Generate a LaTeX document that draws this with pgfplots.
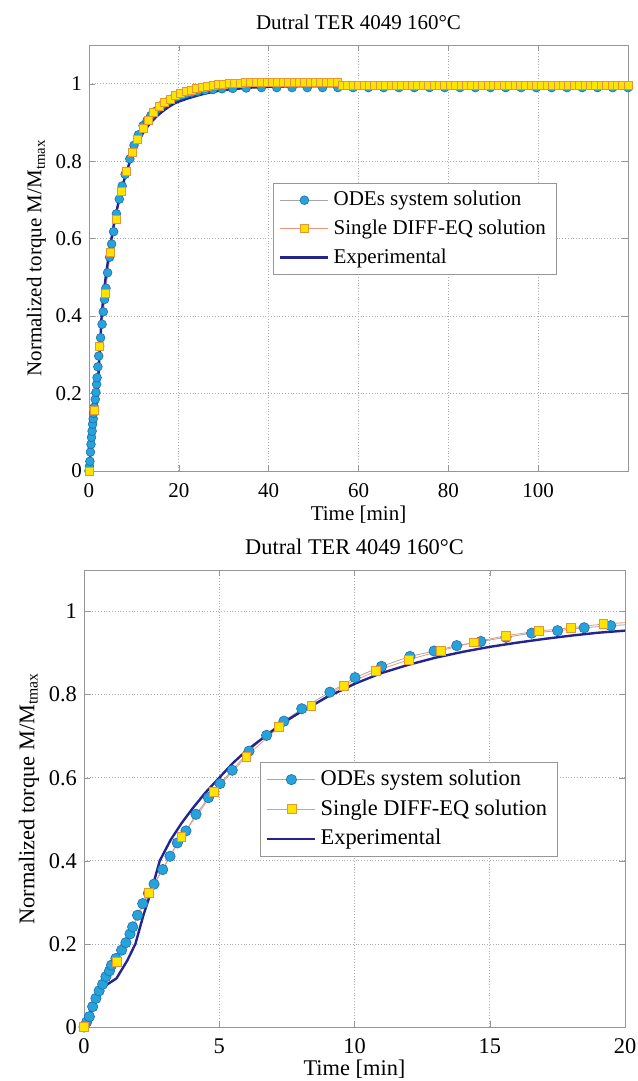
\documentclass[border=0pt]{standalone}
\usepackage{fontspec}
\setmainfont{Liberation Serif}
\usepackage{pgfplots}
\usepackage{pgfplotstable}
\pgfplotsset{compat=1.18}

\definecolor{odeblue}{RGB}{40,162,218}
\definecolor{odeedge}{RGB}{30,110,170}
\definecolor{sqyellow}{RGB}{255,228,0}
\definecolor{sqedge}{RGB}{232,150,50}
\definecolor{sqline}{RGB}{240,150,120}
\definecolor{expnavy}{RGB}{36,36,142}
\definecolor{axgray}{RGB}{150,150,150}

\pgfplotstableread{
t v
0 0
0.10 0.012
0.20 0.025
0.32 0.049
0.44 0.069
0.56 0.087
0.69 0.103
0.81 0.121
0.94 0.135
1.02 0.149
1.18 0.165
1.39 0.185
1.55 0.203
1.70 0.224
1.80 0.241
1.98 0.269
2.17 0.297
2.38 0.322
2.59 0.344
2.91 0.379
3.18 0.411
3.45 0.443
3.77 0.472
4.14 0.512
4.60 0.552
5.03 0.586
5.48 0.618
6.10 0.664
6.75 0.702
7.39 0.736
8.05 0.766
9.09 0.806
10.02 0.841
11.00 0.868
12.05 0.892
12.94 0.905
13.78 0.918
14.67 0.928
15.60 0.938
16.55 0.948
17.51 0.954
18.49 0.961
19.47 0.966
20.5 0.970
21.6 0.974
22.8 0.977
24.2 0.980
25.8 0.983
27.6 0.985
29.6 0.987
32.0 0.988
35.0 0.989
38.4 0.990
41.8 0.990
45.2 0.990
48.6 0.990
52.0 0.990
55.4 0.990
58.8 0.990
62.2 0.990
65.6 0.990
69.0 0.990
72.4 0.990
75.8 0.990
79.2 0.990
82.6 0.990
86.0 0.990
89.4 0.990
92.8 0.990
96.2 0.990
99.6 0.990
103.0 0.990
106.4 0.990
109.8 0.990
113.2 0.990
116.6 0.990
120.0 0.990
}\odedata

\pgfplotstableread{
t v
0 0
1.2 0.157
2.4 0.323
3.6 0.458
4.8 0.566
6.0 0.651
7.2 0.722
8.4 0.774
9.6 0.822
10.8 0.857
12.0 0.884
13.2 0.906
14.4 0.926
15.6 0.942
16.8 0.953
18.0 0.961
19.2 0.970
20.4 0.975
21.6 0.980
22.8 0.984
24.0 0.988
25.2 0.991
26.4 0.994
27.6 0.996
28.8 0.998
30.0 0.999
31.2 1.000
32.4 1.001
33.6 1.002
34.8 1.003
36.0 1.003
37.2 1.004
38.4 1.004
39.6 1.004
40.8 1.004
42.0 1.004
43.2 1.004
44.4 1.004
45.6 1.004
46.8 1.004
48.0 1.004
49.2 1.004
50.4 1.004
51.6 1.004
52.8 1.004
54.0 1.004
55.2 1.004
56.4 0.995
57.6 0.995
58.8 0.995
60.0 0.995
61.2 0.995
62.4 0.995
63.6 0.995
64.8 0.995
66.0 0.995
67.2 0.995
68.4 0.995
69.6 0.995
70.8 0.995
72.0 0.995
73.2 0.995
74.4 0.995
75.6 0.995
76.8 0.995
78.0 0.995
79.2 0.995
80.4 0.995
81.6 0.995
82.8 0.995
84.0 0.995
85.2 0.995
86.4 0.995
87.6 0.995
88.8 0.995
90.0 0.995
91.2 0.995
92.4 0.995
93.6 0.995
94.8 0.995
96.0 0.995
97.2 0.995
98.4 0.995
99.6 0.995
100.8 0.995
102.0 0.995
103.2 0.995
104.4 0.995
105.6 0.995
106.8 0.995
108.0 0.995
109.2 0.995
110.4 0.995
111.6 0.995
112.8 0.995
114.0 0.995
115.2 0.995
116.4 0.995
117.6 0.995
118.8 0.995
120.0 0.995
}\sqdata

\pgfplotstableread{
t v
0 0
0.2 0.03
0.5 0.08
0.8 0.100
1.2 0.117
1.6 0.16
1.9 0.20
2.2 0.27
2.5 0.33
2.8 0.40
3.2 0.45
3.6 0.49
4.0 0.525
4.5 0.565
5.0 0.600
5.5 0.635
6.0 0.665
6.5 0.690
7.0 0.715
7.5 0.738
8.0 0.758
8.5 0.776
9.0 0.795
9.5 0.810
10.0 0.826
11.0 0.852
12.0 0.872
13.0 0.889
14.0 0.903
15.0 0.915
16.0 0.925
17.0 0.934
18.0 0.942
19.0 0.949
20.0 0.954
22 0.962
24 0.969
26 0.975
28 0.980
30 0.984
33 0.987
36 0.990
40 0.992
45 0.994
50 0.996
60 0.997
70 0.997
80 0.996
90 0.995
100 0.994
110 0.993
120 0.992
}\expdata

\pgfplotsset{
  mlab/.style={
    scale only axis,
    ymin=0, ymax=1.1,
    ytick={0,0.2,0.4,0.6,0.8,1},
    yticklabels={0,0.2,0.4,0.6,0.8,1},
    axis line style={draw=axgray},
    tick style={draw=axgray},
    tick align=inside,
    major tick length=3pt,
    grid=major,
    major grid style={draw=axgray!80, densely dotted, line width=0.4pt},
    /pgf/number format/assume math mode=true,
    xlabel={Time [min]},
    ylabel={Normalized torque M/M\textsubscript{tmax}},
    ylabel style={yshift=-2pt},
    title={Dutral TER 4049 160°C},
    title style={yshift=-2pt},
    xticklabel style={yshift=-2.5pt},
    legend cell align=left,
    legend image code/.code={\draw[mark repeat=2,mark phase=2] plot coordinates {(0pt,0pt) (12pt,0pt) (24pt,0pt)};},
    legend style={draw=axgray, fill=white, inner xsep=3pt, inner ysep=2pt, row sep=1.5pt},
  },
  odestyle/.style={color=gray!70, line width=0.4pt, mark=*, mark size=2.2pt, mark options={fill=odeblue, draw=odeedge, line width=0.3pt}},
  sqstyle/.style={color=sqline, line width=0.4pt, mark=square*, mark size=2pt, mark options={fill=sqyellow, draw=sqedge, line width=0.3pt}},
  expstyle/.style={color=expnavy, line width=1.2pt, mark=none},
}

\begin{document}
\begin{tikzpicture}
\path[use as bounding box] (-44.5pt,-305pt) rectangle (274pt,235.5pt);
\begin{axis}[mlab, name=top, at={(0,0)}, anchor=south west,
  width=269.5pt, height=213pt,
  xmin=0, xmax=120, xtick={0,20,40,60,80,100},
  font=\fontsize{10.5}{12}\selectfont,
  xlabel style={yshift=2.5pt},
  legend style={at={(0.341,0.676)}, anchor=north west, font=\fontsize{10.5}{12}\selectfont},
]
\addplot[odestyle] table[x=t,y=v] {\odedata};
\addlegendentry{ODEs system solution}
\addplot[sqstyle] table[x=t,y=v] {\sqdata};
\addlegendentry{Single DIFF-EQ solution}
\addplot[expstyle] table[x=t,y=v] {\expdata};
\addlegendentry{Experimental}
\end{axis}

\begin{axis}[mlab, at={(-2.5pt,-49.5pt)}, anchor=north west,
  width=270.5pt, height=228.5pt,
  xmin=0, xmax=20, xtick={0,5,10,15,20},
  font=\fontsize{11.2}{13}\selectfont,
  xlabel style={yshift=4pt},
  legend style={at={(0.325,0.58)}, anchor=north west, font=\fontsize{11.2}{13}\selectfont},
]
\addplot[odestyle, mark size=2.6pt] table[x=t,y=v] {\odedata};
\addlegendentry{ODEs system solution}
\addplot[sqstyle, mark size=2.2pt] table[x=t,y=v] {\sqdata};
\addlegendentry{Single DIFF-EQ solution}
\addplot[expstyle] table[x=t,y=v] {\expdata};
\addlegendentry{Experimental}
\end{axis}
\end{tikzpicture}
\end{document}
